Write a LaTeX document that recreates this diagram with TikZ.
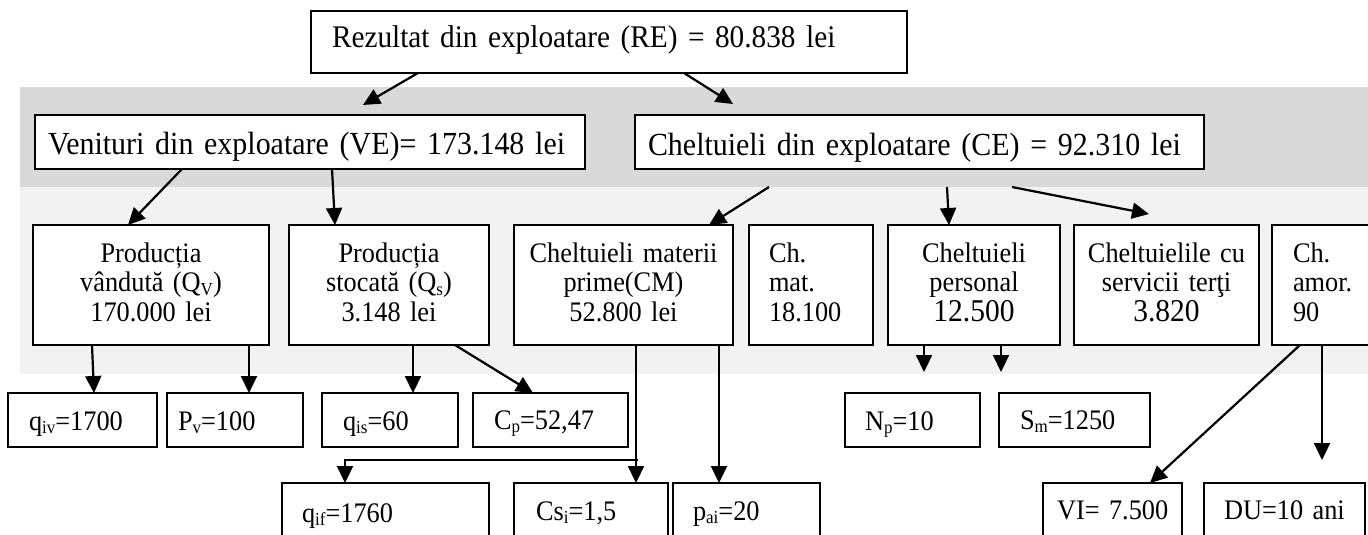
\documentclass[tikz,border=0pt]{standalone}
\usepackage{fontspec}
\setmainfont{Liberation Serif}[FakeStretch=0.93,WordSpace=0.8]
\usetikzlibrary{arrows.meta}

\definecolor{bandDark}{HTML}{D9D9D9}
\definecolor{bandLight}{HTML}{F2F2F2}

% font sizes used in the chart
\newcommand\fontRE{\fontsize{31.5}{33}\selectfont}
\newcommand\fontVE{\fontsize{32.2}{33}\selectfont}
\newcommand\fontNum{\fontsize{31.7}{29.5}\selectfont}
% lowered, reduced index
\newcommand\sbs[1]{\raisebox{-3.8pt}{\fontsize{18.3}{18}\selectfont #1}}

% \tbox{options}{name}{left}{right}{top}{bottom}{first baseline}{inset}{text}
\newcommand\tbox[9]{%
  \node[tb,#1,inner xsep=#8pt,
        text width={#4-#3-2*#8},
        text height={#7-#5},
        text depth={#6-#7}]
    (#2) at ({(#3+#4)/2},{(#5+#6)/2}) {#9};}

\begin{document}
\begin{tikzpicture}[x=1pt,y=-1pt,
  tb/.style={draw, line width=1.7pt, fill=white, rectangle, inner ysep=0pt,
             outer sep=0pt, font=\fontsize{28.3}{29.5}\selectfont},
  arr/.style={line width=2.2pt, -{Triangle[length=17pt,width=16pt]}}]

\useasboundingbox (0,0) rectangle (1368,535);
\clip (0,0) rectangle (1368,535);
\fill[white] (0,0) rectangle (1368,535);

% shaded levels
\fill[bandDark]  (20,87.3)  rectangle (1368,186.7);
\fill[bandLight] (20,186.7) rectangle (1368,374);

% top level
\tbox{align=left,font=\fontRE}{re}{311}{907}{11}{73}{48}{21}{\mbox{Rezultat din exploatare (RE) = 80.838 lei}}

% revenues and expenses
\tbox{align=left,font=\fontVE}{ve}{35}{585}{115}{169}{154}{13}{\mbox{Venituri din exploatare (VE)= 173.148 lei}}
\tbox{align=left,font=\fontVE}{ce}{635}{1204}{115}{169}{155}{13}{\mbox{Cheltuieli din exploatare (CE) = 92.310 lei}}

% components
\tbox{align=center}{qv}{33}{269}{225}{345}{262}{2}{Producția\\vândută (Q\sbs{V})\\170.000 lei}
\tbox{align=center}{qs}{289}{489}{225}{345}{262}{2}{Producția\\stocată (Q\sbs{s})\\3.148 lei}
\tbox{align=center}{cm}{514}{733}{225}{345}{262}{2}{Cheltuieli materii\\prime(CM)\\52.800 lei}
\tbox{align=left}{cmat}{749}{873}{225}{345}{262}{20}{Ch.\\mat.\\18.100}
\tbox{align=center}{pers}{888}{1060}{225}{345}{262}{2}{Cheltuieli\\personal\\{\fontNum 12.500}}
\tbox{align=center}{serv}{1074}{1259}{225}{345}{262}{2}{Cheltuielile cu\\servicii terţi\\{\fontNum 3.820}}
\tbox{align=left}{cam}{1272}{1380}{225}{345}{262}{21}{Ch.\\amor.\\90}

% factors, first row
\tbox{align=left}{qiv}{8}{157}{393}{447}{430}{21}{\mbox{q\sbs{iv}=1700}}
\tbox{align=left}{pv}{167}{303}{393}{447}{430}{11}{\mbox{P\sbs{v}=100}}
\tbox{align=left}{qis}{322}{458}{393}{447}{430}{21}{\mbox{q\sbs{is}=60}}
\tbox{align=left}{costp}{473}{628}{393}{447}{429}{21}{\mbox{C\sbs{p}=52,47}}
\tbox{align=left}{np}{845}{980}{393}{447}{430}{20}{\mbox{N\sbs{p}=10}}
\tbox{align=left}{sm}{999}{1150}{393}{447}{429}{21}{\mbox{S\sbs{m}=1250}}

% factors, second row
\tbox{align=left}{qif}{282}{489}{483}{545}{522}{20}{\mbox{q\sbs{if}=1760}}
\tbox{align=left}{csi}{514}{668}{483}{545}{520}{22}{\mbox{Cs\sbs{i}=1,5}}
\tbox{align=left}{pai}{673}{820}{483}{545}{520}{20}{\mbox{p\sbs{ai}=20}}
\tbox{align=left}{vi}{1043}{1182}{483}{545}{519}{14}{\mbox{VI= 7.500}}
\tbox{align=left}{du}{1204}{1365}{483}{545}{519}{20}{\mbox{DU=10 ani}}

% free arrow ends
\coordinate (tVE) at (363,105);
\coordinate (tCE) at (733,104);
\coordinate (sCM) at (769,187);
\coordinate (sPE) at (947,187);
\coordinate (sST) at (1012,187);
\coordinate (tST) at (1149,214);
\coordinate (tNP) at (924,372);
\coordinate (tSM) at (1001,372);
\coordinate (tDU) at (1322,460);
\coordinate (brk) at (638,460);

% connectors
\draw[arr] (re.south -| 418,0) -- (tVE);
\draw[arr] (re.south -| 684,0) -- (tCE);
\draw[arr] (ve.south -| 182,0) -- (qv.north -| 128,0);
\draw[arr] (ve.south -| 332,0) -- (qs.north -| 335,0);
\draw[arr] (sCM) -- (cm.north -| 709,0);
\draw[arr] (sPE) -- (pers.north -| 949,0);
\draw[arr] (sST) -- (tST);
\draw[arr] (qv.south -| 92,0) -- (qiv.north -| 94,0);
\draw[arr] (qv.south -| 249,0) -- (pv.north -| 249,0);
\draw[arr] (qs.south -| 413,0) -- (qis.north -| 413,0);
\draw[arr] (qs.south -| 455,0) -- (costp.north -| 533,0);
\draw[arr] (cm.south -| 636,0) -- (csi.north -| 636,0);
\draw[arr] (brk) -| (qif.north -| 345,0);
\draw[arr] (cm.south -| 719,0) -- (pai.north -| 719,0);
\draw[arr] (pers.south -| 924,0) -- (tNP);
\draw[arr] (pers.south -| 1001,0) -- (tSM);
\draw[arr] (cam.south -| 1300,0) -- (vi.north -| 1150,0);
\draw[arr] (cam.south -| 1322,0) -- (tDU);
\end{tikzpicture}
\end{document}
